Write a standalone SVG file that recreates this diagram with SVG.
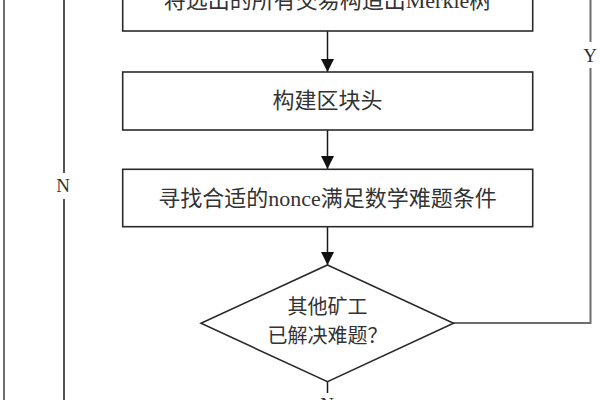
<svg xmlns="http://www.w3.org/2000/svg" width="600" height="400" viewBox="0 0 600 400">
<defs>
<style>
.box{fill:#fff;stroke:#2a2a2a;stroke-width:1.6}
.t{font-family:"Liberation Serif","Noto Sans CJK SC",serif;font-size:22px;fill:#333;text-anchor:middle}
.d{font-size:20px}
.lbl{font-family:"Liberation Serif",serif;font-size:19px;fill:#333;text-anchor:middle}
.c{fill:none;stroke:#1a1a1a;stroke-width:1.5}
.g{fill:none;stroke:#6e6e6e;stroke-width:2}
</style>
<marker id="ah" viewBox="0 0 10 10" refX="10" refY="5" markerWidth="13" markerHeight="13" markerUnits="userSpaceOnUse" orient="auto">
<path d="M0,0 L10,5 L0,10 Z" fill="#111"/>
</marker>
</defs>
<rect width="600" height="400" fill="#fff"/>
<g id="connectors">
<line class="c" x1="327.5" y1="31" x2="327.5" y2="72" marker-end="url(#ah)"/>
<line class="c" x1="327.5" y1="130" x2="327.5" y2="169" marker-end="url(#ah)"/>
<line class="c" x1="327.5" y1="227" x2="327.5" y2="265" marker-end="url(#ah)"/>
<line class="c" x1="327.5" y1="382" x2="327.5" y2="393"/>
<polyline class="g" points="453,323 590.5,323 590.5,68"/>
<line class="g" x1="590.5" y1="42" x2="590.5" y2="-5"/>
<line class="c" x1="64" y1="-5" x2="64" y2="173"/>
<line class="c" x1="64" y1="199" x2="64" y2="405"/>
<line class="g" x1="4" y1="-5" x2="4" y2="405"/>
<text class="lbl" x="590" y="62">Y</text>
<text class="lbl" x="63" y="192">N</text>
<text class="lbl" x="327" y="411">N</text>
</g>
<g id="n1">
<rect class="box" x="122.7" y="-30" width="410" height="61"/>
<text class="t" x="327.5" y="8">将选出的所有交易构造出Merkle树</text>
</g>
<g id="n2">
<rect class="box" x="122.7" y="72" width="410" height="58"/>
<text class="t" x="327.5" y="108">构建区块头</text>
</g>
<g id="n3">
<rect class="box" x="122.7" y="169.3" width="410" height="57.4"/>
<text class="t" x="327.5" y="206">寻找合适的nonce满足数学难题条件</text>
</g>
<g id="n4">
<polygon class="box" points="327.5,265 453.5,323.3 327.5,381.7 201,323.3"/>
<text class="t d" x="327.5" y="314">其他矿工</text>
<text class="t d" x="327.5" y="343">已解决难题？</text>
</g>
</svg>
